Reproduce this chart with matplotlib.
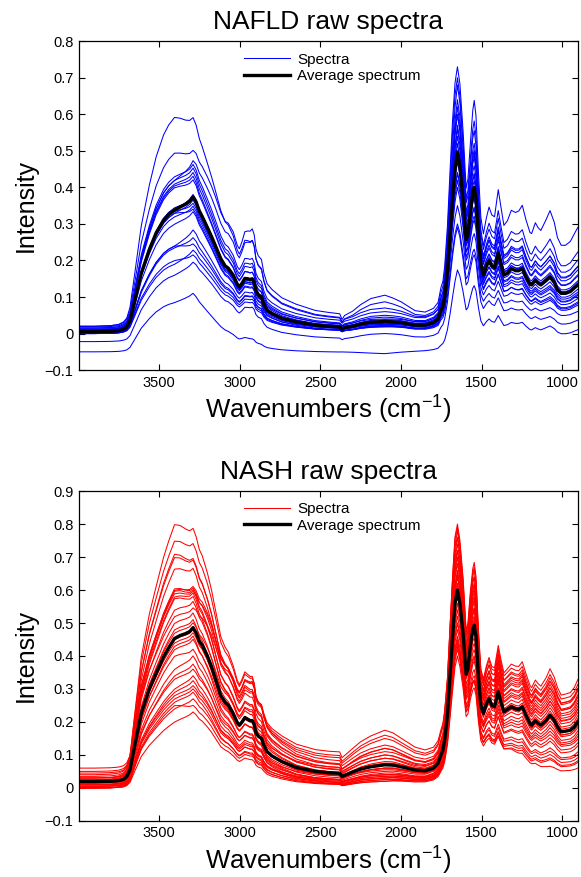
import numpy as np
import matplotlib
matplotlib.use("Agg")
import matplotlib.pyplot as plt
from matplotlib.ticker import FixedLocator, FuncFormatter

plt.rcParams['font.family'] = ['Liberation Sans', 'DejaVu Sans']
plt.rcParams['mathtext.fontset'] = 'custom'
plt.rcParams['mathtext.rm'] = 'Liberation Sans'
plt.rcParams['mathtext.it'] = 'Liberation Sans'

# ---------------- data ----------------
wavenumbers = [3996, 3900, 3800, 3750, 3720, 3700, 3680, 3650, 3610, 3560, 3518, 3472, 3440, 3404,
               3370, 3335, 3310, 3289, 3270, 3250, 3232, 3200, 3174, 3150, 3117, 3090, 3071, 3040,
               3015, 3002, 2985, 2968, 2950, 2935, 2922, 2910, 2899, 2885, 2865, 2850, 2830, 2800,
               2739, 2650, 2532, 2450, 2380, 2365, 2350, 2300, 2250, 2188, 2100, 2050, 2000, 1913,
               1850, 1798, 1770, 1752, 1740, 1729, 1712, 1695, 1680, 1665, 1650, 1635, 1615, 1596,
               1585, 1570, 1555, 1546, 1535, 1520, 1505, 1489, 1470, 1454, 1437, 1420, 1397, 1380,
               1362, 1340, 1316, 1290, 1270, 1248, 1225, 1200, 1190, 1167, 1150, 1133, 1100, 1076,
               1050, 1030, 1007, 980, 950, 925, 904]

nafld_average = [0.005, 0.005, 0.006, 0.008, 0.012, 0.018, 0.035, 0.09, 0.165, 0.23, 0.275, 0.31, 0.326, 0.338,
                 0.346, 0.354, 0.362, 0.374, 0.36, 0.335, 0.32, 0.29, 0.265, 0.24, 0.205, 0.185, 0.179, 0.16,
                 0.135, 0.128, 0.138, 0.151, 0.150, 0.148, 0.150, 0.140, 0.118, 0.107, 0.10, 0.08, 0.064, 0.055,
                 0.042, 0.032, 0.023, 0.02, 0.018, 0.012, 0.016, 0.02, 0.026, 0.031, 0.033, 0.032, 0.03, 0.023,
                 0.023, 0.03, 0.04, 0.064, 0.075, 0.10, 0.17, 0.275, 0.37, 0.45, 0.497, 0.46, 0.365, 0.256,
                 0.27, 0.33, 0.385, 0.40, 0.37, 0.27, 0.19, 0.16, 0.185, 0.20, 0.185, 0.18, 0.22, 0.19,
                 0.16, 0.165, 0.178, 0.172, 0.172, 0.178, 0.155, 0.135, 0.133, 0.146, 0.138, 0.133, 0.145, 0.155,
                 0.14, 0.12, 0.11, 0.11, 0.115, 0.125, 0.133]

nash_average = [0.019, 0.019, 0.02, 0.022, 0.026, 0.034, 0.055, 0.13, 0.226, 0.30, 0.347, 0.397, 0.425, 0.453,
                0.462, 0.468, 0.474, 0.486, 0.47, 0.445, 0.433, 0.40, 0.367, 0.33, 0.28, 0.26, 0.251, 0.225,
                0.198, 0.19, 0.20, 0.213, 0.208, 0.204, 0.204, 0.192, 0.168, 0.157, 0.15, 0.13, 0.11, 0.097,
                0.08, 0.062, 0.05, 0.046, 0.044, 0.035, 0.038, 0.048, 0.057, 0.064, 0.07, 0.069, 0.064, 0.054,
                0.052, 0.06, 0.075, 0.10, 0.115, 0.145, 0.22, 0.347, 0.46, 0.56, 0.60, 0.56, 0.468, 0.345,
                0.36, 0.43, 0.48, 0.493, 0.46, 0.34, 0.25, 0.226, 0.255, 0.271, 0.25, 0.246, 0.292, 0.26,
                0.231, 0.238, 0.246, 0.24, 0.238, 0.246, 0.22, 0.195, 0.19, 0.204, 0.196, 0.19, 0.205, 0.221,
                0.205, 0.185, 0.17, 0.172, 0.175, 0.185, 0.20]

# individual spectra, read at: baseline(3900), 3400, 3290, 2100, 1650, 1080 cm-1
anchor_wavenumbers = [3400, 3290, 2100, 1650, 1080]
nafld_baseline = [0.020, 0.020, 0.015, 0.018, 0.012, 0.010, 0.015, 0.008, 0.010, 0.005, 0.012,
                  0.002, 0.008, 0.005, 0.000, 0.005, 0.000, 0.000, 0.000, 0.002, -0.022, -0.050]
nafld_at_3400 = [0.593, 0.495, 0.420, 0.430, 0.420, 0.410, 0.405, 0.400, 0.340, 0.345, 0.330,
                 0.335, 0.320, 0.330, 0.300, 0.240, 0.235, 0.240, 0.190, 0.200, 0.160, 0.085]
nafld_at_3290 = [0.590, 0.500, 0.472, 0.462, 0.452, 0.440, 0.430, 0.420, 0.380, 0.372, 0.365,
                 0.356, 0.348, 0.340, 0.333, 0.283, 0.262, 0.245, 0.228, 0.215, 0.195, 0.110]
nafld_at_2100 = [0.070, 0.105, 0.087, 0.060, 0.050, 0.045, 0.040, 0.038, 0.035, 0.030, 0.032,
                 0.028, 0.030, 0.025, 0.022, 0.025, 0.020, 0.022, 0.020, 0.018, 0.000, -0.055]
nafld_at_1650 = [0.600, 0.730, 0.700, 0.680, 0.640, 0.620, 0.570, 0.600, 0.540, 0.520, 0.560,
                 0.500, 0.470, 0.440, 0.480, 0.440, 0.400, 0.350, 0.300, 0.420, 0.290, 0.174]
nafld_at_1080 = [0.210, 0.333, 0.256, 0.230, 0.210, 0.200, 0.180, 0.185, 0.165, 0.160, 0.150,
                 0.140, 0.130, 0.120, 0.125, 0.110, 0.100, 0.090, 0.070, 0.095, 0.046, 0.020]

nash_baseline = [0.030, 0.040, 0.025, 0.035, 0.020, 0.045, 0.030, 0.015, 0.050, 0.025, 0.010,
                 0.020, 0.060, 0.015, 0.005, 0.030, 0.010, 0.020, 0.000, 0.015, 0.005, 0.010,
                 0.000, 0.020, 0.005, 0.000, 0.010, 0.000, 0.005, 0.000, 0.010, 0.000]
nash_at_3400 = [0.800, 0.750, 0.710, 0.700, 0.665, 0.600, 0.605, 0.598, 0.590, 0.580, 0.575,
                0.540, 0.520, 0.500, 0.480, 0.470, 0.450, 0.440, 0.430, 0.420, 0.400, 0.360,
                0.340, 0.330, 0.300, 0.290, 0.280, 0.260, 0.240, 0.200, 0.270, 0.250]
nash_at_3290 = [0.786, 0.740, 0.695, 0.690, 0.665, 0.610, 0.605, 0.600, 0.595, 0.590, 0.580,
                0.565, 0.545, 0.530, 0.510, 0.500, 0.480, 0.470, 0.460, 0.450, 0.420, 0.400,
                0.375, 0.360, 0.340, 0.325, 0.310, 0.290, 0.270, 0.230, 0.300, 0.250]
nash_at_2100 = [0.120, 0.130, 0.100, 0.110, 0.090, 0.150, 0.120, 0.080, 0.160, 0.090, 0.060,
                0.075, 0.175, 0.060, 0.040, 0.100, 0.050, 0.070, 0.030, 0.060, 0.045, 0.040,
                0.030, 0.055, 0.035, 0.025, 0.040, 0.020, 0.030, 0.020, 0.035, 0.025]
nash_at_1650 = [0.700, 0.720, 0.680, 0.740, 0.650, 0.800, 0.780, 0.760, 0.790, 0.700, 0.650,
                0.720, 0.760, 0.620, 0.600, 0.680, 0.640, 0.660, 0.560, 0.580, 0.620, 0.520,
                0.540, 0.500, 0.480, 0.460, 0.440, 0.500, 0.420, 0.400, 0.450, 0.430]
nash_at_1080 = [0.300, 0.320, 0.280, 0.300, 0.260, 0.357, 0.330, 0.310, 0.340, 0.270, 0.240,
                0.290, 0.320, 0.230, 0.210, 0.260, 0.220, 0.250, 0.190, 0.200, 0.210, 0.170,
                0.180, 0.160, 0.150, 0.120, 0.110, 0.140, 0.100, 0.085, 0.065, 0.090]

x_ticks = [3500, 3000, 2500, 2000, 1500, 1000]
nafld_y_ticks = [-0.1, 0, 0.1, 0.2, 0.3, 0.4, 0.5, 0.6, 0.7, 0.8]
nash_y_ticks = [-0.1, 0, 0.1, 0.2, 0.3, 0.4, 0.5, 0.6, 0.7, 0.8, 0.9]


def build_spectra(avg, baseline, cols):
    wn = np.array(wavenumbers, dtype=float)
    avg = np.array(avg)
    avg_base = avg[1]
    aw = np.array(anchor_wavenumbers, dtype=float)
    avg_anchor = np.interp(aw[::-1], wn[::-1], avg[::-1])[::-1]
    out = []
    for i, b in enumerate(baseline):
        vals = np.array([c[i] for c in cols])
        k = (vals - b) / (avg_anchor - avg_base)
        kw = np.interp(wn[::-1], aw[::-1], k[::-1])[::-1]
        out.append(b + kw * (avg - avg_base))
    return wn, out


def fmt(v, pos):
    s = '%g' % round(v, 2)
    return s.replace('-', '\u2212')


fig = plt.figure(figsize=(5.81, 8.77), dpi=100)
panels = [
    ([0.136, 0.578, 0.859, 0.375], 'NAFLD raw spectra', (0, 0, 1), nafld_average, nafld_baseline,
     [nafld_at_3400, nafld_at_3290, nafld_at_2100, nafld_at_1650, nafld_at_1080], nafld_y_ticks),
    ([0.136, 0.064, 0.859, 0.376], 'NASH raw spectra', (1, 0, 0), nash_average, nash_baseline,
     [nash_at_3400, nash_at_3290, nash_at_2100, nash_at_1650, nash_at_1080], nash_y_ticks),
]

for rect, title, color, avg, base, cols, yticks in panels:
    ax = fig.add_axes(rect)
    wn, spectra = build_spectra(avg, base, cols)
    first = None
    for s in spectra:
        ln, = ax.plot(wn, s, color=color, lw=0.75)
        if first is None:
            first = ln
    avg_ln, = ax.plot(wavenumbers, avg, color='black', lw=2.4, zorder=5)
    ax.set_xlim(3996, 902)
    ax.set_ylim(yticks[0], yticks[-1])
    ax.xaxis.set_major_locator(FixedLocator(x_ticks))
    ax.yaxis.set_major_locator(FixedLocator(yticks))
    ax.yaxis.set_major_formatter(FuncFormatter(fmt))
    ax.tick_params(direction='in', top=True, right=True, length=4, width=0.8,
                   labelsize=10.5, colors='black', pad=4)
    for sp in ax.spines.values():
        sp.set_linewidth(0.9)
        sp.set_color('black')
    ax.set_title(title, fontsize=19, pad=9)
    ax.set_ylabel('Intensity', fontsize=18, labelpad=5)
    ax.set_xlabel('Wavenumbers (cm$^{\u22121}$)', fontsize=18.5, labelpad=3)
    ax.legend([first, avg_ln], ['Spectra', 'Average spectrum'], loc='upper left',
              bbox_to_anchor=(0.31, 0.998), frameon=False, fontsize=11, handlelength=3.0,
              handletextpad=0.45, labelspacing=0.15, borderaxespad=0.3)

fig.savefig('out.png', dpi=100)
